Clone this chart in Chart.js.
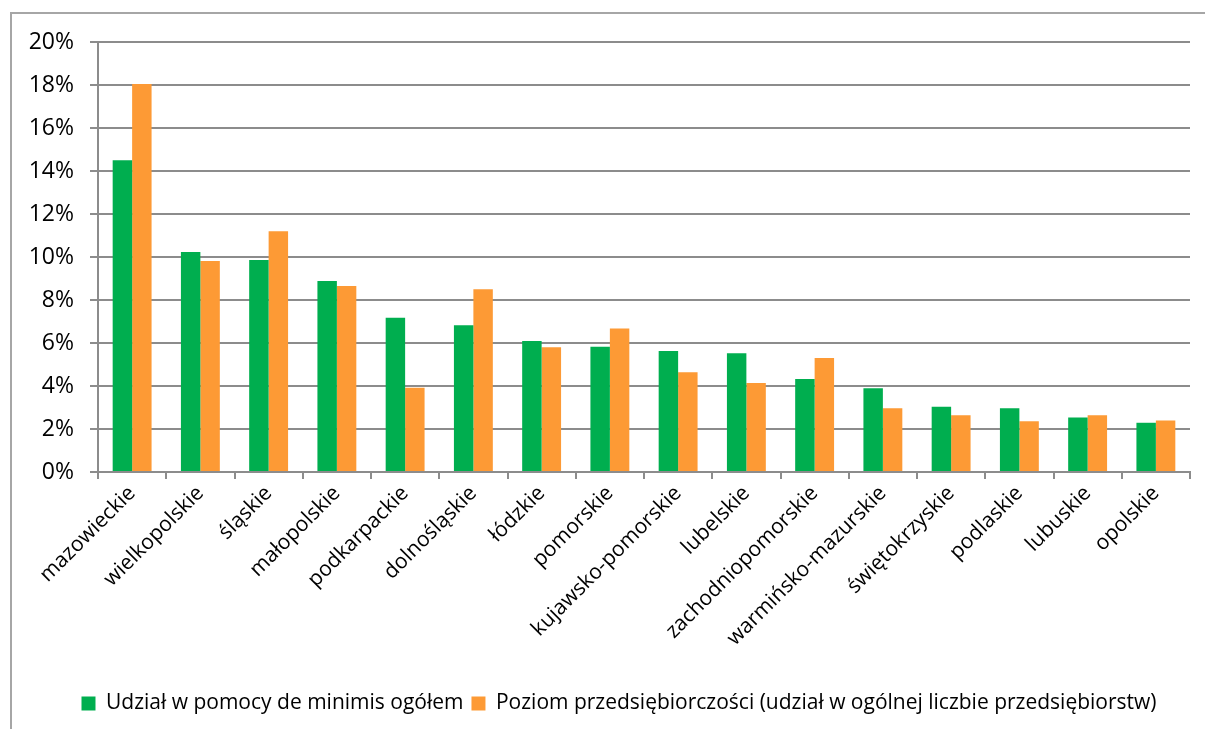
<!DOCTYPE html>
<html>
<head>
<meta charset="utf-8">
<script src="https://cdn.jsdelivr.net/npm/chart.js@4/dist/chart.umd.min.js"></script>
<style>
  html, body { margin: 0; padding: 0; background: #fff; overflow: hidden; }
  canvas { display: block; }
</style>
</head>
<body>
<canvas id="chart" width="1205" height="729"></canvas>
<script>
// --- dane ---
const regions = ['mazowieckie', 'wielkopolskie', 'śląskie', 'małopolskie', 'podkarpackie',
  'dolnośląskie', 'łódzkie', 'pomorskie', 'kujawsko-pomorskie', 'lubelskie',
  'zachodniopomorskie', 'warmińsko-mazurskie', 'świętokrzyskie', 'podlaskie', 'lubuskie', 'opolskie'];

const udzialPomocy = [14.5, 10.23, 9.86, 8.88, 7.18, 6.82, 6.09, 5.83, 5.63, 5.52, 4.33, 3.89, 3.04, 2.96, 2.54, 2.29];
const poziomPrzeds = [18.05, 9.81, 11.2, 8.65, 3.92, 8.5, 5.8, 6.68, 4.64, 4.14, 5.3, 2.96, 2.64, 2.36, 2.64, 2.4];

const seriesNames = ['Udział w pomocy de minimis ogółem',
  'Poziom przedsiębiorczości (udział w ogólnej liczbie przedsiębiorstw)'];

const FONT = "'Open Sans', sans-serif";

// ramka wykresu (lewa i górna krawędź) + przesunięcie legendy w prawo
const framePlugin = {
  id: 'frame',
  afterLayout(chart) {
    const lg = chart.legend;
    if (lg) { lg.left += 24; lg.right += 24; }
  },
  beforeDraw(chart) {
    const ctx = chart.ctx;
    ctx.save();
    ctx.fillStyle = '#fff';
    ctx.fillRect(0, 0, chart.width, chart.height);
    ctx.strokeStyle = '#a6a6a6';
    ctx.lineWidth = 2;
    ctx.beginPath();
    ctx.moveTo(11, chart.height);
    ctx.lineTo(11, 13);
    ctx.lineTo(chart.width, 13);
    ctx.stroke();
    ctx.restore();
  }
};

new Chart(document.getElementById('chart').getContext('2d'), {
  type: 'bar',
  data: {
    labels: regions,
    datasets: [
      { label: seriesNames[0], data: udzialPomocy, backgroundColor: '#00ae4f' },
      { label: seriesNames[1], data: poziomPrzeds, backgroundColor: '#fd9a35' }
    ]
  },
  plugins: [framePlugin],
  options: {
    responsive: false,
    animation: false,
    layout: { padding: { top: 42, right: 15, bottom: 5, left: 0 } },
    datasets: { bar: { categoryPercentage: 0.57, barPercentage: 1 } },
    plugins: {
      tooltip: { enabled: false },
      legend: {
        position: 'bottom',
        labels: {
          color: '#000',
          font: { family: FONT, size: 21 },
          boxWidth: 14,
          boxHeight: 14,
          padding: 8
        }
      }
    },
    scales: {
      x: {
        afterFit: s => { s.height = 213; },
        grid: { offset: true, drawOnChartArea: false, drawTicks: true, tickLength: 7, color: '#8c8c8c', lineWidth: 2 },
        border: { color: '#8c8c8c', width: 2 },
        ticks: {
          color: '#000',
          font: { family: FONT, size: 21 },
          minRotation: 45,
          maxRotation: 45,
          autoSkip: false,
          padding: 2
        }
      },
      y: {
        min: 0,
        max: 20,
        afterFit: s => { s.width = 98; },
        grid: { color: '#8c8c8c', lineWidth: 2, tickLength: 8 },
        border: { color: '#8c8c8c', width: 2 },
        ticks: {
          stepSize: 2,
          color: '#000',
          font: { family: FONT, size: 23 },
          padding: 16,
          callback: v => v + '%'
        }
      }
    }
  }
});
</script>
</body>
</html>
